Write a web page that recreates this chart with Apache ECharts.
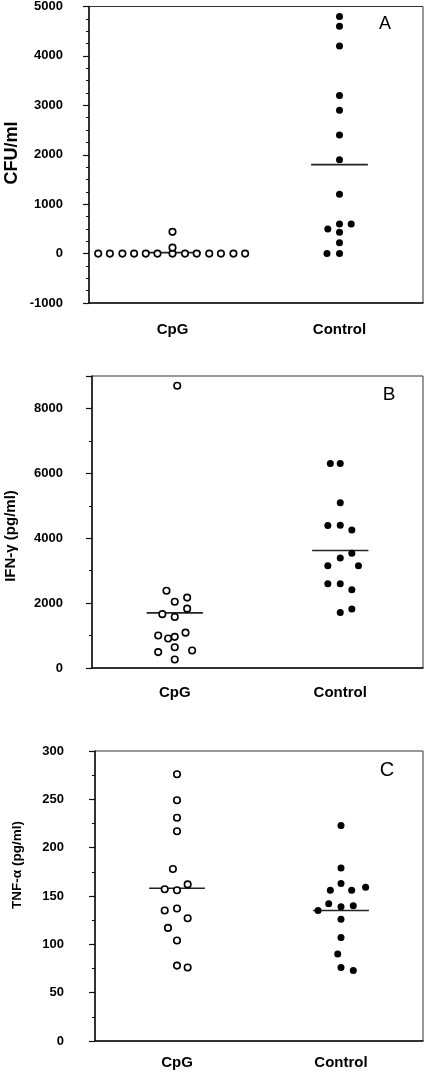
<!DOCTYPE html>
<html>
<head>
<meta charset="utf-8">
<script src="https://cdn.jsdelivr.net/npm/echarts@6/dist/echarts.min.js"></script>
<style>html,body{margin:0;padding:0;background:#fff}#c{width:426px;height:1072px}</style>
</head>
<body>
<div id="c"></div>
<script>
// ---------- DATA ----------
const categories = ['CpG', 'Control'];
const panelLetters = ['A', 'B', 'C'];
const yNames = ['CFU/ml', 'IFN-\u03b3 (pg/ml)', 'TNF-\u03b1 (pg/ml)'];

// Panel A: CFU/ml
const cfuCpG = [0, 0, 0, 0, 0, 0, 0, 0, 0, 0, 0, 0, 0, 120, 440];
const cfuCpGJitter = [-0.89, -0.75, -0.60, -0.46, -0.32, -0.18, 0, 0.15, 0.29, 0.44, 0.58, 0.73, 0.87, 0, 0];
const cfuControl = [4800, 4600, 4200, 3200, 2900, 2400, 1900, 1200, 600, 600, 500, 430, 220, 0, 0];
const cfuControlJitter = [0, 0, 0, 0, 0, 0, 0, 0, 0, 0.14, -0.14, 0, 0, -0.15, 0];
const cfuMeans = [20, 1800];
const cfuTicks = { min: -1000, max: 5000, interval: 1000 };

// Panel B: IFN-gamma
const ifnCpG = [8700, 2380, 2040, 2170, 1830, 1660, 1570, 1000, 910, 960, 1090, 640, 490, 540, 260];
const ifnCpGJitter = [0.03, -0.10, 0, 0.15, 0.15, -0.15, 0, -0.20, -0.08, 0, 0.13, 0, -0.20, 0.21, 0];
const ifnControl = [6300, 6300, 5090, 4390, 4400, 4250, 3540, 3390, 3150, 3150, 2600, 2600, 2410, 1710, 1820];
const ifnControlJitter = [-0.12, 0, 0, -0.15, 0, 0.14, 0.14, 0, -0.15, 0.22, -0.15, 0, 0.14, 0, 0.14];
const ifnMeans = [1700, 3620];
const ifnTicks = { min: 0, max: 9000, interval: 2000 };

// Panel C: TNF-alpha
const tnfCpG = [276, 249, 231, 217, 178, 162, 157, 156, 135, 137, 127, 117, 104, 78, 76];
const tnfCpGJitter = [0, 0, 0, 0, -0.05, 0.13, -0.15, 0, -0.15, 0, 0.13, -0.11, 0, 0, 0.13];
const tnfControl = [223, 179, 163, 156, 156, 159, 142, 140, 139, 135, 126, 107, 90, 76, 73];
const tnfControlJitter = [0, 0, 0, -0.13, 0.13, 0.30, -0.15, 0.15, 0, -0.28, 0, 0, -0.04, 0, 0.15];
const tnfMeans = [158, 135];
const tnfTicks = { min: 0, max: 300, interval: 50 };

// ---------- BUILD ----------
const FONT = '"Liberation Sans", Arial, Helvetica, sans-serif';
const catPos = [1, 3];

const panels = [
  { cpg: cfuCpG, cpgJ: cfuCpGJitter, ctl: cfuControl, ctlJ: cfuControlJitter, means: cfuMeans, ticks: cfuTicks,
    grid: { left: 89, top: 3, width: 335, height: 300 }, minorSplit: 4, labelMargin: 26, catMargin: 19 },
  { cpg: ifnCpG, cpgJ: ifnCpGJitter, ctl: ifnControl, ctlJ: ifnControlJitter, means: ifnMeans, ticks: ifnTicks,
    grid: { left: 92, top: 376, width: 333, height: 292 }, minorSplit: 2, labelMargin: 29, catMargin: 17 },
  { cpg: tnfCpG, cpgJ: tnfCpGJitter, ctl: tnfControl, ctlJ: tnfControlJitter, means: tnfMeans, ticks: tnfTicks,
    grid: { left: 95, top: 751, width: 328, height: 290 }, minorSplit: 2, labelMargin: 31, catMargin: 14 }
];

const grids = [], xAxes = [], yAxes = [], series = [];
panels.forEach((p, i) => {
  grids.push(Object.assign({ show: true, borderColor: '#333', borderWidth: 1, backgroundColor: '#fff' }, p.grid));
  xAxes.push({
    type: 'value', gridIndex: i, min: 0, max: 4, interval: 1,
    axisLine: { show: true, onZero: false, lineStyle: { color: '#111', width: 1.5 } },
    axisTick: { show: false }, splitLine: { show: false },
    axisLabel: {
      margin: p.catMargin, color: '#000', fontFamily: FONT, fontWeight: 'bold', fontSize: 15,
      formatter: v => (v === catPos[0] ? categories[0] : v === catPos[1] ? categories[1] : '')
    }
  });
  const iv = p.ticks.interval;
  yAxes.push({
    type: 'value', gridIndex: i, min: p.ticks.min, max: p.ticks.max, interval: iv,
    axisLine: { show: true, onZero: false, lineStyle: { color: '#111', width: 1.5 } },
    axisTick: { show: true, inside: false, length: 6, lineStyle: { color: '#111', width: 1.2 } },
    minorTick: { show: true, splitNumber: p.minorSplit, length: 3, lineStyle: { color: '#111', width: 1 } },
    splitLine: { show: false },
    axisLabel: {
      margin: p.labelMargin, color: '#000', fontFamily: FONT, fontWeight: 'bold', fontSize: 13,
      formatter: v => (Math.abs(v % iv) < 1e-9 ? String(v) : '')
    }
  });
  const cpgPts = p.cpg.map((v, k) => [catPos[0] + p.cpgJ[k], v]);
  const ctlPts = p.ctl.map((v, k) => [catPos[1] + p.ctlJ[k], v]);
  series.push({
    type: 'line', xAxisIndex: i, yAxisIndex: i, symbol: 'none', silent: true, z: 2,
    lineStyle: { color: '#222', width: 1.6 },
    data: [[catPos[0] - 0.34, p.means[0]], [catPos[0] + 0.34, p.means[0]]]
  });
  series.push({
    type: 'line', xAxisIndex: i, yAxisIndex: i, symbol: 'none', silent: true, z: 2,
    lineStyle: { color: '#222', width: 1.6 },
    data: [[catPos[1] - 0.34, p.means[1]], [catPos[1] + 0.34, p.means[1]]]
  });
  series.push({
    type: 'scatter', xAxisIndex: i, yAxisIndex: i, symbol: 'circle', symbolSize: 6.5, z: 3,
    itemStyle: { color: '#fff', borderColor: '#000', borderWidth: 1.6, opacity: 1 },
    data: cpgPts
  });
  series.push({
    type: 'scatter', xAxisIndex: i, yAxisIndex: i, symbol: 'circle', symbolSize: 7, z: 3,
    itemStyle: { color: '#000', opacity: 1 },
    data: ctlPts
  });
});

const nameSpecs = [
  { x: 12, y: 153, size: 18 },
  { x: 11, y: 536, size: 15 },
  { x: 17, y: 865, size: 13.5 }
];
const letterSpecs = [
  { x: 385, y: 24, size: 18 },
  { x: 389, y: 395, size: 19 },
  { x: 387, y: 770, size: 20 }
];
const graphics = [];
yNames.forEach((n, i) => {
  graphics.push({
    type: 'text', x: nameSpecs[i].x, y: nameSpecs[i].y, rotation: Math.PI / 2,
    style: { text: n, fill: '#000', font: 'bold ' + nameSpecs[i].size + 'px ' + FONT, align: 'center', verticalAlign: 'middle' }
  });
});
panelLetters.forEach((l, i) => {
  graphics.push({
    type: 'text', x: letterSpecs[i].x, y: letterSpecs[i].y,
    style: { text: l, fill: '#000', font: letterSpecs[i].size + 'px ' + FONT, align: 'center', verticalAlign: 'middle' }
  });
});

const chart = echarts.init(document.getElementById('c'), null, { renderer: 'canvas' });
chart.setOption({
  animation: false,
  backgroundColor: '#fff',
  grid: grids, xAxis: xAxes, yAxis: yAxes, series: series, graphic: graphics
});
</script>
</body>
</html>
